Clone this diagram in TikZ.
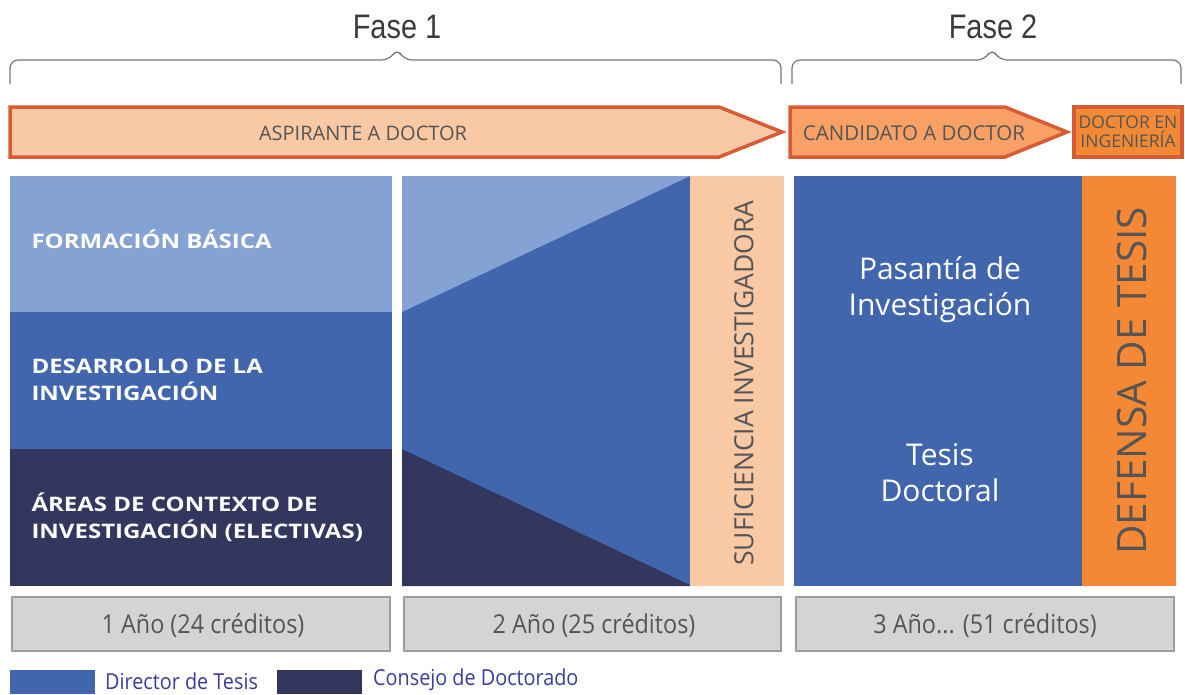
\documentclass[tikz,border=0pt]{standalone}
\usepackage{fontspec}
\setmainfont{Open Sans}
\newfontfamily\fasefont{Liberation Sans}[FakeStretch=0.85]
\newfontfamily\condfont{Open Sans}[FakeStretch=0.9]
\newfontfamily\widefont{Open Sans}[FakeStretch=1.2]
\usepackage{tikz}
\usetikzlibrary{positioning,calc}

\definecolor{lightblue}{HTML}{84A2D3}
\definecolor{midblue}{HTML}{4166AE}
\definecolor{navy}{HTML}{33375E}
\definecolor{peach}{HTML}{F9C8A5}
\definecolor{salmon}{HTML}{F8A065}
\definecolor{darkorange}{HTML}{F28A35}
\definecolor{defensa}{HTML}{F48834}
\definecolor{rimred}{HTML}{D95B35}
\definecolor{boxgray}{HTML}{D3D4D6}
\definecolor{rimgray}{HTML}{9C9C9C}
\definecolor{textgray}{HTML}{555555}
\definecolor{legendtext}{HTML}{3B3B9B}

\begin{document}
\begin{tikzpicture}[x=1pt, y=-1pt,
    bracket/.style={draw=textgray!80, line width=1.2pt, rounded corners=8pt},
    fasetext/.style={text=textgray!70!black, font=\fasefont\fontsize{34}{34}\selectfont},
    stage/.style={draw=rimred, line width=3.5pt, line join=miter},
    stagetext/.style={text=textgray, font=\fontsize{20}{21}\selectfont, align=center},
    whitebold/.style={text=white, font=\widefont\bfseries\fontsize{20}{27}\selectfont, align=left, anchor=west},
    whitetext/.style={text=white, font=\fontsize{30}{36}\selectfont, align=center},
    vertical/.style={text=textgray, rotate=90},
    yearbox/.style={fill=boxgray, draw=rimgray, line width=2.5pt},
    yeartext/.style={text=textgray, font=\condfont\fontsize{26}{26}\selectfont},
    legendlabel/.style={text=legendtext, font=\condfont\fontsize{22}{22}\selectfont, anchor=west, inner sep=0pt}]
    \useasboundingbox (0,0) rectangle (1185,694);

    % Phase brackets
    \draw[bracket] (10,84) |- (390,60) -- (397,48) -- (404,60) -| (781,84);
    \draw[bracket] (792,84) |- (985,60) -- (992,48) -- (999,60) -| (1181,84);
    \node[fasetext] (fase1) at (397,27) {Fase 1};
    \node[fasetext] (fase2) at (993,27) {Fase 2};

    % Stage arrows
    \draw[stage, fill=peach] (10,107) -- (719,107) -- (782,132) -- (719,157) -- (10,157) -- cycle;
    \draw[stage, fill=salmon] (790,107) -- (1005,107) -- (1067,132) -- (1005,157) -- (790,157) -- cycle;
    \draw[stage, fill=darkorange] (1074,107) rectangle (1182,157);
    \node[stagetext] (aspirante) at (363,133) {ASPIRANTE A DOCTOR};
    \node[stagetext, font=\fontsize{20.5}{21}\selectfont] (candidato) at (914,133) {CANDIDATO A DOCTOR};
    \node[stagetext, font=\fontsize{17.5}{19}\selectfont] (doctor) at (1128,132) {DOCTOR EN\\INGENIERÍA};

    % First year
    \fill[lightblue] (10,176) rectangle (392,312);
    \fill[midblue] (10,312) rectangle (392,449);
    \fill[navy] (10,449) rectangle (392,586);
    \node[whitebold] (formacion) at (28,239) {FORMACIÓN BÁSICA};
    \node[whitebold] (desarrollo) at (28,380) {DESARROLLO DE LA\\INVESTIGACIÓN};
    \node[whitebold] (areas) at (28,517) {ÁREAS DE CONTEXTO DE\\INVESTIGACIÓN (ELECTIVAS)};

    % Second year
    \fill[midblue] (402,176) rectangle (690,586);
    \fill[lightblue] (402,176) -- (690,176) -- (402,312) -- cycle;
    \fill[navy] (402,449) -- (690,585) -- (690,586) -- (402,586) -- cycle;
    \fill[peach] (690,176) rectangle (784,586);
    \node[vertical, font=\fontsize{26.5}{26.5}\selectfont] (suficiencia) at (744,383) {SUFICIENCIA INVESTIGADORA};

    % Third year
    \fill[midblue] (794,176) rectangle (1082,586);
    \fill[defensa] (1082,176) rectangle (1176,586);
    \node[whitetext] (pasantia) at (940,290) {Pasantía de\\Investigación};
    \node[whitetext] (tesis) at (940,473) {Tesis\\Doctoral};
    \node[vertical, font=\fontsize{40.5}{40}\selectfont] (defensa) at (1132,381) {DEFENSA DE TESIS};

    % Duration boxes
    \draw[yearbox] (12,597) rectangle (390,651);
    \draw[yearbox] (404,597) rectangle (781,651);
    \draw[yearbox] (796,597) rectangle (1174,651);
    \node[yeartext] (year1) at (203,626) {1 Año (24 créditos)};
    \node[yeartext] (year2) at (594,626) {2 Año (25 créditos)};
    \node[yeartext] (year3) at (985,626) {3 Año... (51 créditos)};

    % Legend
    \fill[midblue] (10,670) rectangle (95,694);
    \fill[navy] (277,670) rectangle (362,694);
    \node[legendlabel] (director) at (105,681) {Director de Tesis};
    \node[legendlabel] (consejo) at (373,680) {Consejo de Doctorado};
\end{tikzpicture}
\end{document}
